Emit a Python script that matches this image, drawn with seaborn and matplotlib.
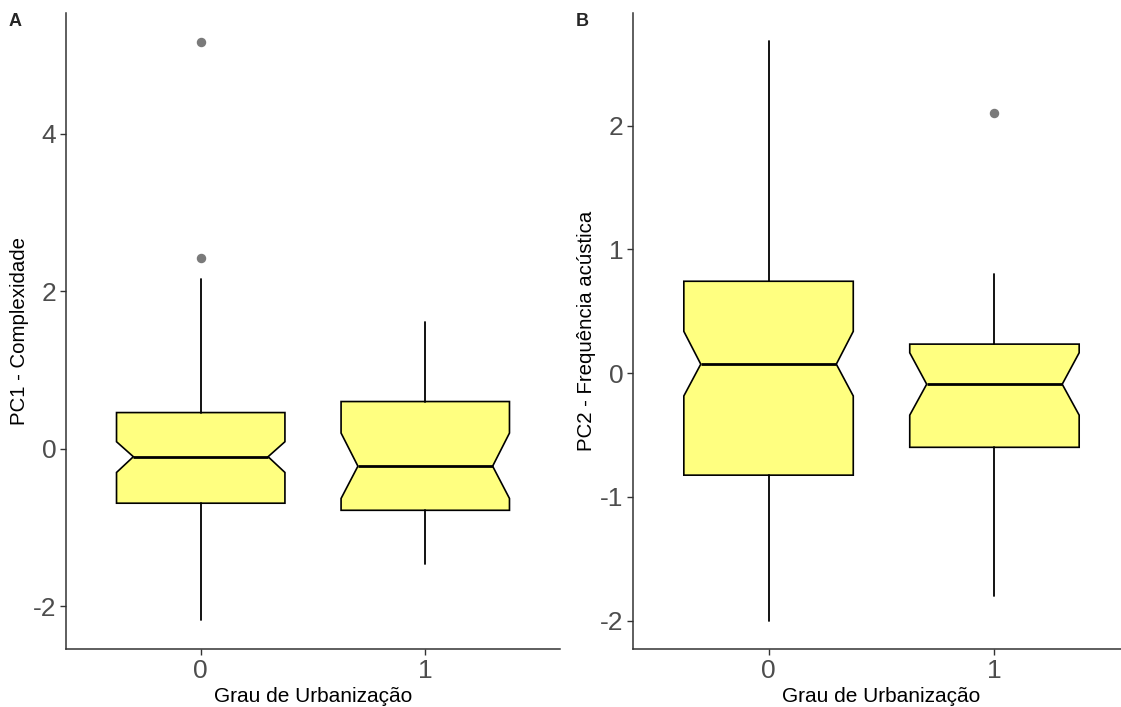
import matplotlib
matplotlib.use("Agg")
import matplotlib.pyplot as plt
from matplotlib.path import Path
import seaborn as sns

# Groups on the x axis
groups = ["0", "1"]
xlabel = "Grau de Urbanização"

# PC1 - Complexidade (per group summary statistics)
pc1_q1 = [-0.69, -0.78]
pc1_med = [-0.10, -0.22]
pc1_q3 = [0.46, 0.60]
pc1_notch_lo = [-0.30, -0.63]
pc1_notch_hi = [0.09, 0.20]
pc1_whislo = [-2.17, -1.46]
pc1_whishi = [2.15, 1.61]
pc1_outliers = [[5.16, 2.42], []]

# PC2 - Frequência acústica (per group summary statistics)
pc2_q1 = [-0.825, -0.60]
pc2_med = [0.072, -0.09]
pc2_q3 = [0.742, 0.234]
pc2_notch_lo = [-0.185, -0.34]
pc2_notch_hi = [0.337, 0.164]
pc2_whislo = [-2.00, -1.80]
pc2_whishi = [2.68, 0.80]
pc2_outliers = [[], [2.10]]

sns.set_theme(style="ticks")
plt.rcParams["font.family"] = ["Liberation Sans", "DejaVu Sans"]
plt.rcParams["axes.unicode_minus"] = False

FILL = "#FFFF80"
BOX_W = 0.75
NOTCH = 0.8  # notch width relative to box width


def stats_for(q1, med, q3, lo, hi, wlo, whi, fl):
    out = []
    for i in range(len(q1)):
        out.append(dict(q1=q1[i], med=med[i], q3=q3[i], cilo=lo[i], cihi=hi[i],
                        whislo=wlo[i], whishi=whi[i], fliers=fl[i], label=groups[i]))
    return out


def draw_panel(ax, stats, ylabel, ylim, yticks):
    positions = list(range(len(stats)))
    art = ax.bxp(stats, positions=positions, widths=BOX_W, shownotches=True,
                 patch_artist=True, showcaps=False,
                 boxprops=dict(facecolor=FILL, edgecolor="black", linewidth=1.2),
                 whiskerprops=dict(color="black", linewidth=1.3),
                 medianprops=dict(color="black", linewidth=2.0, solid_capstyle="butt"),
                 flierprops=dict(marker="o", markerfacecolor="#7a7a7a",
                                 markeredgecolor="#7a7a7a", markersize=5.8))
    half = BOX_W * NOTCH / 2
    for pos, box, medline in zip(positions, art["boxes"], art["medians"]):
        path = box.get_path()
        verts = path.vertices.copy()
        verts[3, 0] = pos + half
        verts[8, 0] = pos - half
        box.set_path(Path(verts, path.codes))
        medline.set_xdata([pos - half, pos + half])
        medline.set_zorder(box.get_zorder() + 0.5)
    ax.set_xlim(-0.6, len(stats) - 0.4)
    ax.set_ylim(*ylim)
    ax.set_yticks(yticks)
    ax.set_yticklabels([f"{t:g}" for t in yticks])
    ax.set_xticks(positions)
    ax.set_xticklabels(groups)
    ax.set_xlabel(xlabel, fontsize=15, color="black", labelpad=3)
    ax.set_ylabel(ylabel, fontsize=14.7, color="black", labelpad=3)
    ax.tick_params(axis="both", labelsize=19, labelcolor="#4D4D4D", color="#333333",
                   length=4, width=1, pad=3)
    for side in ("left", "bottom"):
        ax.spines[side].set_color("#333333")
        ax.spines[side].set_linewidth(1.1)
    sns.despine(ax=ax)
    ax.grid(False)


fig = plt.figure(figsize=(11.21, 7.07), dpi=100)
W, H = 1121, 707
axA = fig.add_axes([66 / W, 1 - 649 / H, 494 / W, 636 / H])
axB = fig.add_axes([633 / W, 1 - 649 / H, 497 / W, 636 / H])

draw_panel(axA, stats_for(pc1_q1, pc1_med, pc1_q3, pc1_notch_lo, pc1_notch_hi,
                          pc1_whislo, pc1_whishi, pc1_outliers),
           "PC1 - Complexidade", (-2.54, 5.53), [-2, 0, 2, 4])
draw_panel(axB, stats_for(pc2_q1, pc2_med, pc2_q3, pc2_notch_lo, pc2_notch_hi,
                          pc2_whislo, pc2_whishi, pc2_outliers),
           "PC2 - Frequência acústica", (-2.23, 2.91), [-2, -1, 0, 1, 2])

fig.text(9 / W, 1 - 21 / H, "A", fontsize=13, fontweight="bold", va="center", ha="left")
fig.text(576 / W, 1 - 21 / H, "B", fontsize=13, fontweight="bold", va="center", ha="left")

fig.savefig("out.png", dpi=100)
